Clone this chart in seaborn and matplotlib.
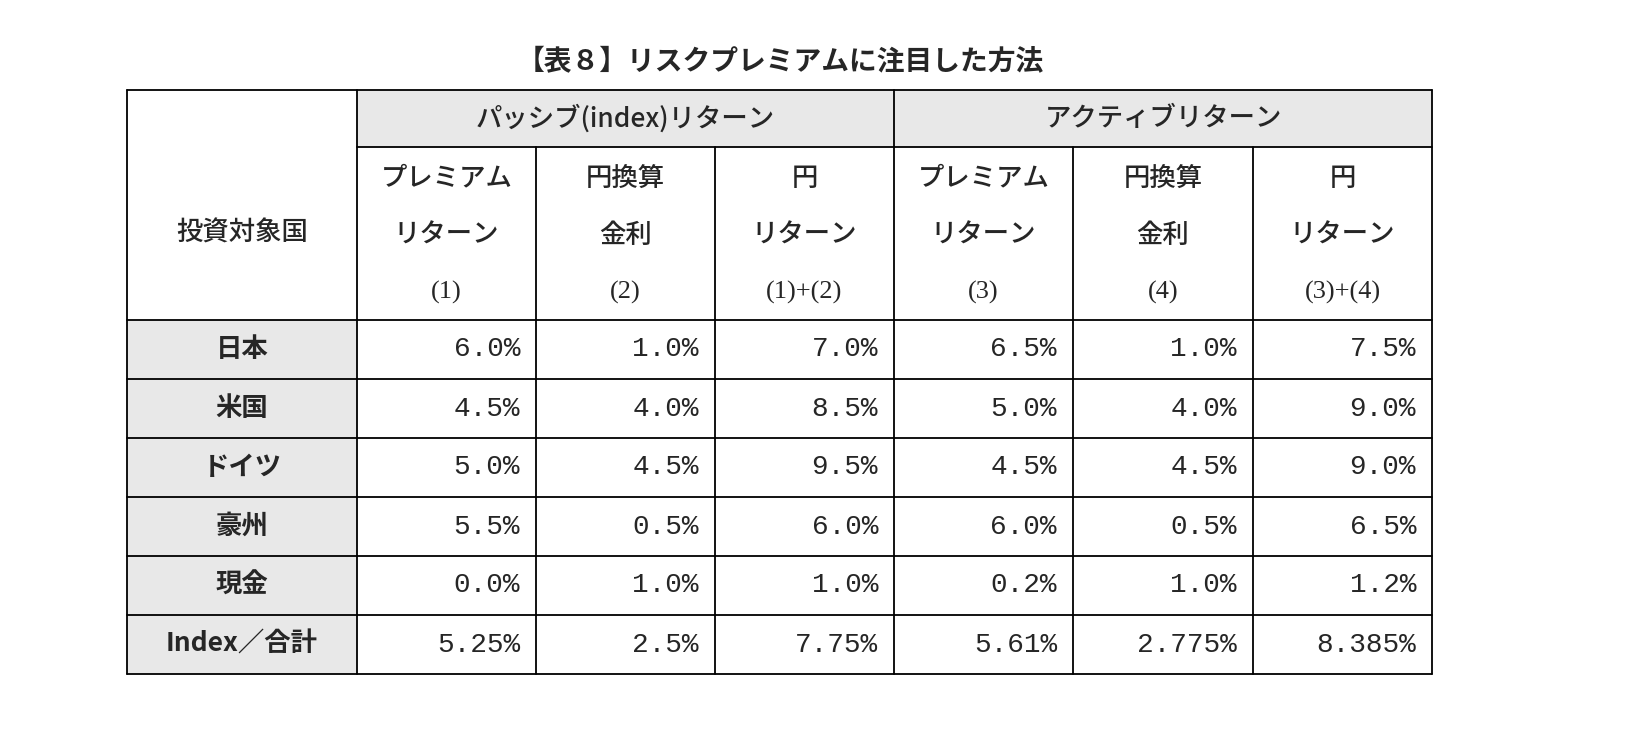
import matplotlib
matplotlib.use("Agg")
import matplotlib.pyplot as plt
import seaborn as sns

sns.set_theme(style="white")
plt.rcParams["font.family"] = "Noto Sans CJK JP"

title = "【表８】リスクプレミアムに注目した方法"
groups = ["パッシブ(index)リターン", "アクティブリターン"]
row_header = "投資対象国"
sub_headers = [["プレミアム", "リターン", "(1)"], ["円換算", "金利", "(2)"], ["円", "リターン", "(1)+(2)"],
               ["プレミアム", "リターン", "(3)"], ["円換算", "金利", "(4)"], ["円", "リターン", "(3)+(4)"]]
countries = ["日本", "米国", "ドイツ", "豪州", "現金", "Index／合計"]
passive_premium = ["6.0%", "4.5%", "5.0%", "5.5%", "0.0%", "5.25%"]
passive_rate = ["1.0%", "4.0%", "4.5%", "0.5%", "1.0%", "2.5%"]
passive_yen = ["7.0%", "8.5%", "9.5%", "6.0%", "1.0%", "7.75%"]
active_premium = ["6.5%", "5.0%", "4.5%", "6.0%", "0.2%", "5.61%"]
active_rate = ["1.0%", "4.0%", "4.5%", "0.5%", "1.0%", "2.775%"]
active_yen = ["7.5%", "9.0%", "9.0%", "6.5%", "1.2%", "8.385%"]
columns = [passive_premium, passive_rate, passive_yen, active_premium, active_rate, active_yen]

fig = plt.figure(figsize=(16.5, 7.36), dpi=100)
ax = fig.add_axes([0, 0, 1, 1])
ax.set_xlim(0, 1650); ax.set_ylim(736, 0); ax.axis("off")

xs = [127, 357, 536, 715, 894, 1073, 1253, 1432]
ys = [90, 147, 320, 379, 438, 497, 556, 615, 674]
gray = "#e8e8e8"
fs = 19

ax.text(780, 62, title, ha="center", va="center", fontsize=20, fontweight="bold")
ax.fill_between([xs[1], xs[7]], ys[0], ys[1], color=gray, lw=0)
ax.fill_between([xs[0], xs[1]], ys[2], ys[8], color=gray, lw=0)
for y in ys:
    if y == ys[1]:
        ax.plot([xs[1], xs[7]], [y, y], color="black", lw=1.3)
    else:
        ax.plot([xs[0], xs[7]], [y, y], color="black", lw=1.3)
for i, x in enumerate(xs):
    if i in (0, 1, 4, 7):
        ax.plot([x, x], [ys[0], ys[8]], color="black", lw=1.3)
    else:
        ax.plot([x, x], [ys[1], ys[8]], color="black", lw=1.3)

ax.text((xs[1] + xs[4]) / 2, (ys[0] + ys[1]) / 2, groups[0], ha="center", va="center", fontsize=fs, fontweight="medium")
ax.text((xs[4] + xs[7]) / 2, (ys[0] + ys[1]) / 2, groups[1], ha="center", va="center", fontsize=fs, fontweight="medium")
ax.text((xs[0] + xs[1]) / 2, (ys[1] + ys[2]) / 2, row_header, ha="center", va="center", fontsize=fs, fontweight="medium")
for j, lines in enumerate(sub_headers):
    cx = (xs[j + 1] + xs[j + 2]) / 2
    for k, t in enumerate(lines):
        if k == 2:
            ax.text(cx, 178 + k * 57, t, ha="center", va="center", fontsize=fs, family="Liberation Serif")
        else:
            ax.text(cx, 178 + k * 57, t, ha="center", va="center", fontsize=fs, fontweight="medium")
for r, c in enumerate(countries):
    cy = (ys[r + 2] + ys[r + 3]) / 2
    ax.text((xs[0] + xs[1]) / 2, cy, c, ha="center", va="center", fontsize=fs, fontweight="bold")
    for j, col in enumerate(columns):
        ax.text(xs[j + 2] - 16, cy, col[r], ha="right", va="center", fontsize=20, family="Liberation Mono")

fig.savefig("out.png", dpi=100, facecolor="white")
